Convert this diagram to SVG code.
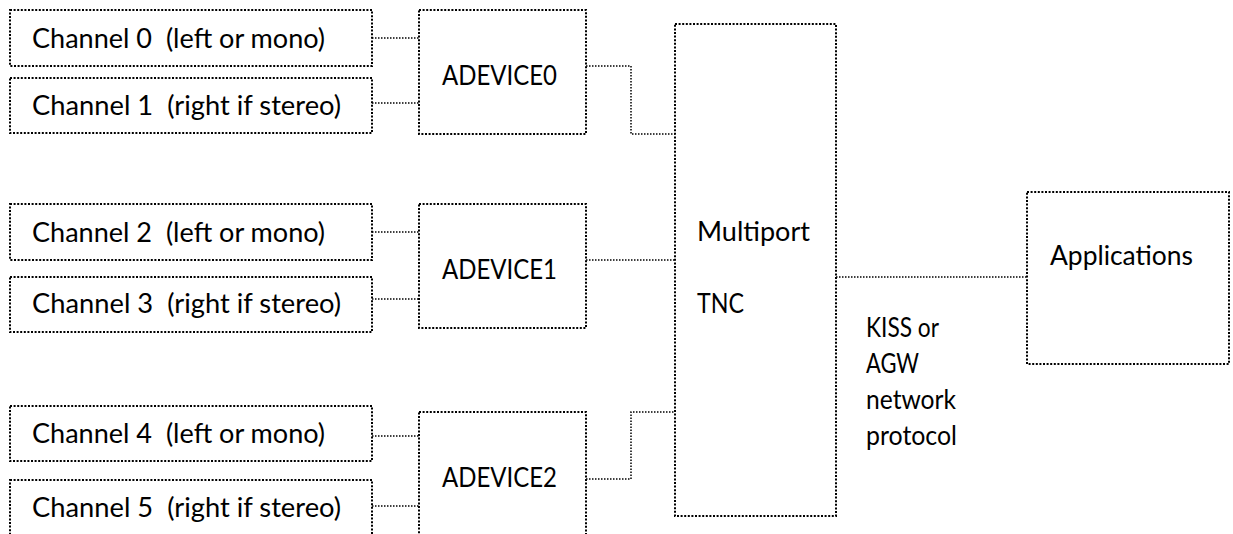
<svg xmlns="http://www.w3.org/2000/svg" width="1233" height="534" viewBox="0 0 1233 534">
<style>
.box{fill:#fff;stroke:#000;stroke-width:2;stroke-dasharray:2 1.6}
.con{fill:none;stroke:#000;stroke-width:1.5;stroke-dasharray:1.5 1.5}
text{font-family:Lato,"Open Sans","Liberation Sans",sans-serif;font-size:26px;fill:#000;white-space:pre}
.lg{font-size:27px}
</style>
<rect width="1233" height="534" fill="#fff"/>
<g id="connectors">
<path class="con" d="M372 38H419M372 103H419"/>
<path class="con" d="M372 232H419M372 299H419"/>
<path class="con" d="M372 436H419M372 506H419"/>
<path class="con" d="M586 66H631V134H675"/>
<path class="con" d="M586 260H675"/>
<path class="con" d="M586 479H631V412H675"/>
<path class="con" d="M836 277H1027"/>
</g>
<g id="ch0"><rect class="box" x="10" y="10" width="362" height="56"/><text class="lg" x="32" y="48" textLength="293" lengthAdjust="spacingAndGlyphs" xml:space="preserve">Channel 0  (left or mono)</text></g>
<g id="ch1"><rect class="box" x="10" y="78" width="362" height="55"/><text class="lg" x="32" y="115" textLength="309" lengthAdjust="spacingAndGlyphs" xml:space="preserve">Channel 1  (right if stereo)</text></g>
<g id="ch2"><rect class="box" x="10" y="204" width="362" height="56"/><text class="lg" x="32" y="242" textLength="293" lengthAdjust="spacingAndGlyphs" xml:space="preserve">Channel 2  (left or mono)</text></g>
<g id="ch3"><rect class="box" x="10" y="277" width="362" height="55"/><text class="lg" x="32" y="313" textLength="309" lengthAdjust="spacingAndGlyphs" xml:space="preserve">Channel 3  (right if stereo)</text></g>
<g id="ch4"><rect class="box" x="10" y="406" width="362" height="55"/><text class="lg" x="32" y="443" textLength="293" lengthAdjust="spacingAndGlyphs" xml:space="preserve">Channel 4  (left or mono)</text></g>
<g id="ch5"><rect class="box" x="10" y="480" width="362" height="56"/><text class="lg" x="32" y="517" textLength="309" lengthAdjust="spacingAndGlyphs" xml:space="preserve">Channel 5  (right if stereo)</text></g>
<g id="adevice0"><rect class="box" x="419" y="10" width="167" height="124"/><text x="442" y="85" textLength="115" lengthAdjust="spacingAndGlyphs">ADEVICE0</text></g>
<g id="adevice1"><rect class="box" x="419" y="204" width="167" height="124"/><text x="442" y="279" textLength="115" lengthAdjust="spacingAndGlyphs">ADEVICE1</text></g>
<g id="adevice2"><rect class="box" x="419" y="412" width="167" height="124"/><text x="442" y="487" textLength="115" lengthAdjust="spacingAndGlyphs">ADEVICE2</text></g>
<g id="tnc"><rect class="box" x="675" y="24" width="161" height="492"/><text class="lg" x="697" y="241" textLength="113" lengthAdjust="spacingAndGlyphs">Multiport</text><text x="697" y="313" textLength="47" lengthAdjust="spacingAndGlyphs">TNC</text></g>
<g id="applications"><rect class="box" x="1027" y="192" width="202" height="172"/><text class="lg" x="1050" y="265" textLength="143" lengthAdjust="spacingAndGlyphs">Applications</text></g>
<g id="protocol-label"><text x="866" y="337" textLength="73" lengthAdjust="spacingAndGlyphs">KISS or</text><text x="866" y="373" textLength="53" lengthAdjust="spacingAndGlyphs">AGW</text><text x="866" y="409" textLength="90" lengthAdjust="spacingAndGlyphs">network</text><text x="866" y="445" textLength="91" lengthAdjust="spacingAndGlyphs">protocol</text></g>
</svg>
